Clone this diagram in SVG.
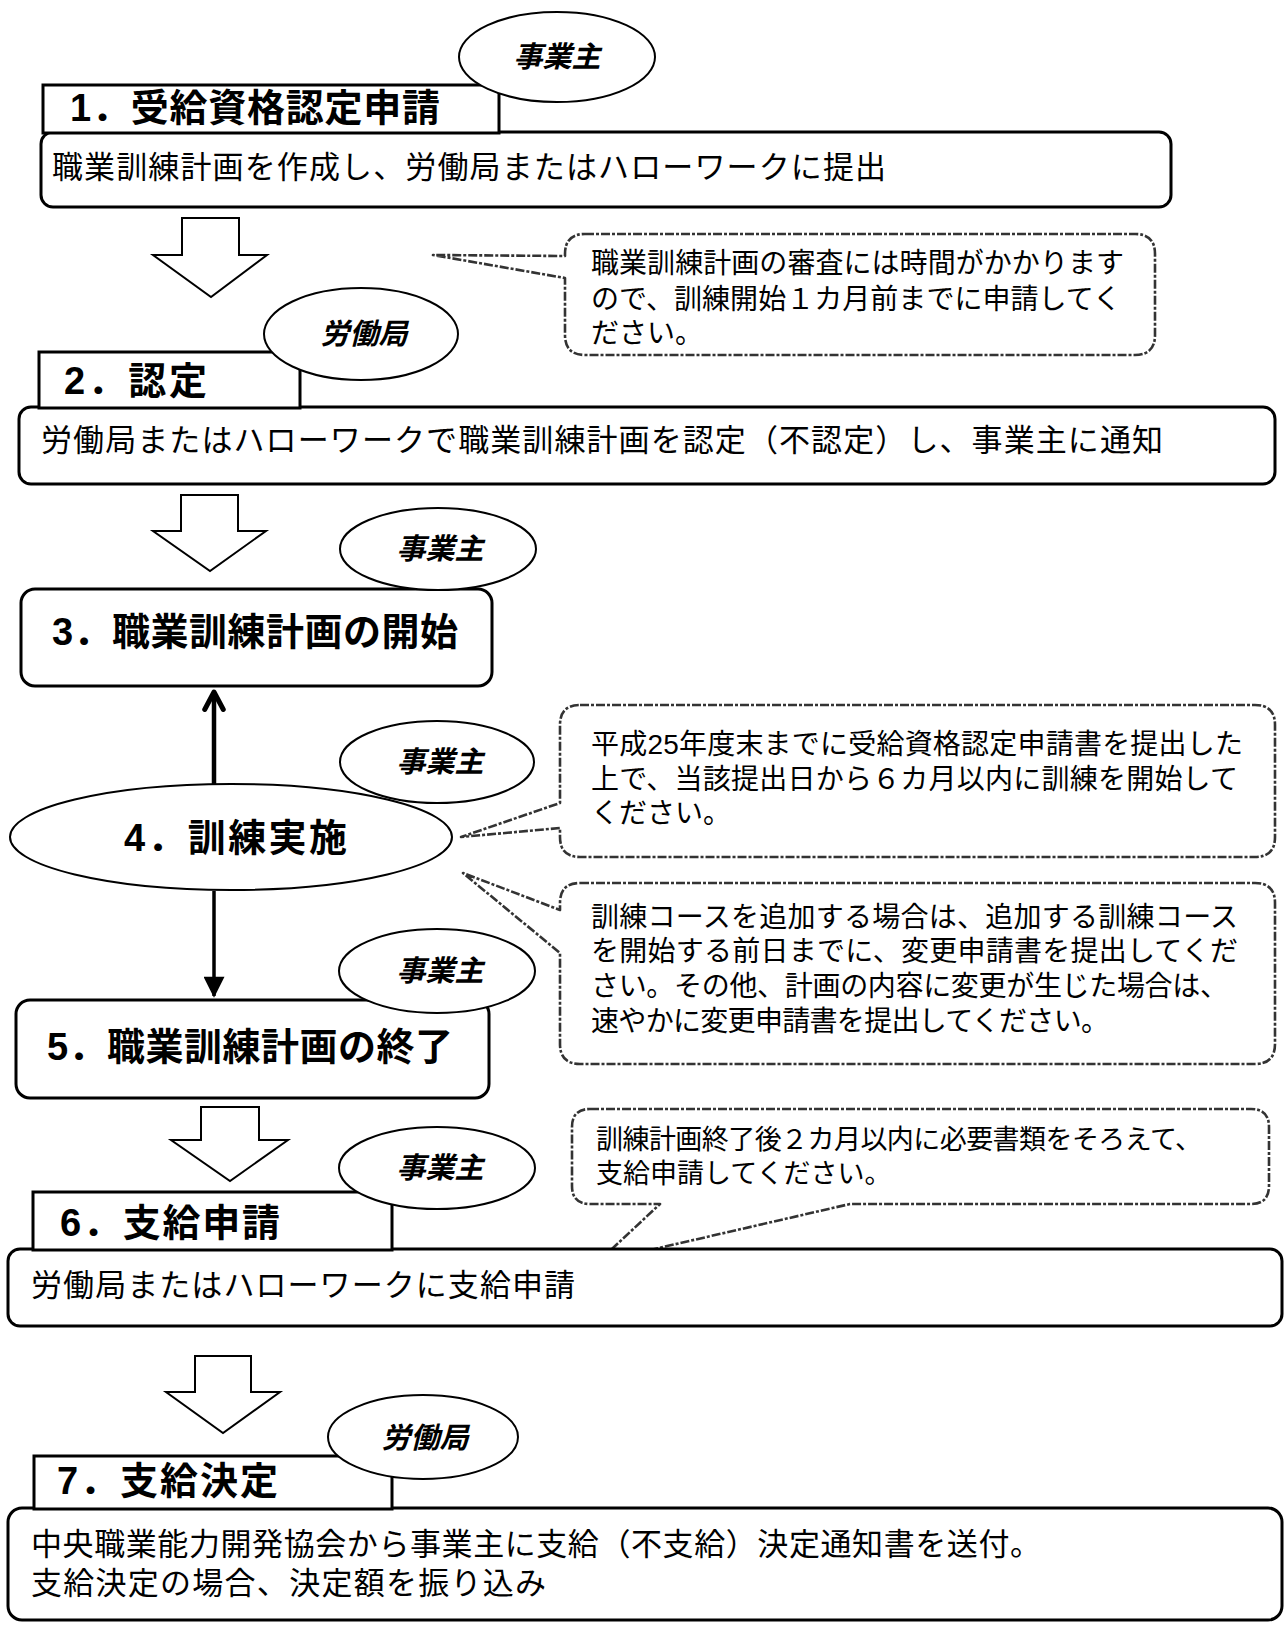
<svg xmlns="http://www.w3.org/2000/svg" width="1288" height="1625" viewBox="0 0 1288 1625">
<style>
.box{fill:#fff;stroke:#000;stroke-width:3}
.ell{fill:#fff;stroke:#000;stroke-width:2}
.call{fill:#fff;stroke:#333;stroke-width:2.6;stroke-dasharray:9 2 3 2;stroke-linejoin:round}
.barrow{fill:#fff;stroke:#000;stroke-width:2}
.conn{stroke:#000;fill:none}
text{font-family:"Liberation Sans","Noto Sans CJK JP",sans-serif;fill:#000;dominant-baseline:central}
.tt{font-weight:bold;font-size:38px}
.tb{font-size:31px}
.tc{font-size:28px}
.te{font-weight:bold;font-style:italic;font-size:29px;text-anchor:middle}
</style>
<defs>
<marker id="openHead" viewBox="0 0 12 12" refX="10" refY="6" markerWidth="5.5" markerHeight="5.5" orient="auto" markerUnits="strokeWidth">
<path d="M1.5,1.5 L10,6 L1.5,10.5" fill="none" stroke="#000" stroke-width="2.4" stroke-linecap="round" stroke-linejoin="round"/>
</marker>
<marker id="fillHead" viewBox="0 0 12 12" refX="11" refY="6" markerWidth="7" markerHeight="6" orient="auto" markerUnits="strokeWidth">
<path d="M0,0 L12,6 L0,12 Z" fill="#000"/>
</marker>
</defs>
<rect width="1288" height="1625" fill="#fff"/>

<g id="connectors">
<polygon class="barrow" points="182,218 239,218 239,255 267,255 211,297 153,255 182,255"/>
<polygon class="barrow" points="181,495 238,495 238,531 266,531 210,571 153,531 181,531"/>
<polygon class="barrow" points="201,1107 259,1107 259,1140 288,1140 230,1181 171,1140 201,1140"/>
<polygon class="barrow" points="195,1356 251,1356 251,1392 280,1392 223,1433 166,1392 195,1392"/>
<line class="conn" x1="214" y1="784" x2="214" y2="692" stroke-width="4.5" marker-end="url(#openHead)"/>
<line class="conn" x1="214" y1="891" x2="214" y2="996" stroke-width="3.5" marker-end="url(#fillHead)"/>
</g>

<g id="step1">
<rect class="box" x="41" y="132" width="1130" height="75" rx="12"/>
<rect class="box" x="43" y="85" width="456" height="48"/>
<text class="tt" x="70" y="108" textLength="370">1．受給資格認定申請</text>
<text class="tb" x="52" y="167" textLength="834">職業訓練計画を作成し、労働局またはハローワークに提出</text>
</g>
<g id="actor1">
<ellipse class="ell" cx="557" cy="57" rx="98" ry="45"/>
<text class="te" x="557" y="57">事業主</text>
</g>

<g id="note1">
<path class="call" d="M585,234 H1135 Q1155,234 1155,254 V335 Q1155,355 1135,355 H585 Q565,355 565,335 V278 L433,255 L565,256 V254 Q565,234 585,234 Z"/>
<text class="tc" x="591" y="263" textLength="533">職業訓練計画の審査には時間がかかります</text>
<text class="tc" x="591" y="299" textLength="530">ので、訓練開始１カ月前までに申請してく</text>
<text class="tc" x="591" y="333">ださい。</text>
</g>

<g id="step2">
<rect class="box" x="19" y="407" width="1256" height="77" rx="12"/>
<rect class="box" x="39" y="352" width="261" height="56"/>
<text class="tt" x="64" y="381" textLength="143">2．認定</text>
<text class="tb" x="41" y="440" textLength="1122">労働局またはハローワークで職業訓練計画を認定（不認定）し、事業主に通知</text>
</g>
<g id="actor2">
<ellipse class="ell" cx="361" cy="334" rx="97" ry="46"/>
<text class="te" x="364" y="334">労働局</text>
</g>

<g id="step3">
<rect class="box" x="21" y="589" width="471" height="97" rx="14"/>
<text class="tt" x="52" y="632" textLength="406">3．職業訓練計画の開始</text>
</g>
<g id="actor3">
<ellipse class="ell" cx="438" cy="549" rx="98" ry="41"/>
<text class="te" x="440" y="549">事業主</text>
</g>

<g id="actor4">
<ellipse class="ell" cx="437" cy="762" rx="97" ry="41"/>
<text class="te" x="440" y="762">事業主</text>
</g>
<g id="step4">
<ellipse class="ell" cx="231" cy="837" rx="221" ry="53"/>
<text class="tt" x="124" y="838" textLength="223">4．訓練実施</text>
</g>

<g id="note2">
<path class="call" d="M580,705 H1255 Q1275,705 1275,725 V837 Q1275,857 1255,857 H580 Q560,857 560,837 V828 L461,837 L560,803 V725 Q560,705 580,705 Z"/>
<text class="tc" x="591" y="744" textLength="652">平成25年度末までに受給資格認定申請書を提出した</text>
<text class="tc" x="591" y="779" textLength="647">上で、当該提出日から６カ月以内に訓練を開始して</text>
<text class="tc" x="591" y="813">ください。</text>
</g>

<g id="note3">
<path class="call" d="M580,883 H1255 Q1275,883 1275,903 V1044 Q1275,1064 1255,1064 H580 Q560,1064 560,1044 V953 L463,873 L560,910 V903 Q560,883 580,883 Z"/>
<text class="tc" x="591" y="917" textLength="647">訓練コースを追加する場合は、追加する訓練コース</text>
<text class="tc" x="591" y="951" textLength="647">を開始する前日までに、変更申請書を提出してくだ</text>
<text class="tc" x="591" y="986" textLength="637">さい。その他、計画の内容に変更が生じた場合は、</text>
<text class="tc" x="591" y="1021" textLength="518">速やかに変更申請書を提出してください。</text>
</g>

<g id="step5">
<rect class="box" x="16" y="1000" width="473" height="98" rx="14"/>
<text class="tt" x="47" y="1047" textLength="406">5．職業訓練計画の終了</text>
</g>
<g id="actor5">
<ellipse class="ell" cx="437" cy="971" rx="98" ry="42"/>
<text class="te" x="440" y="971">事業主</text>
</g>

<g id="note4">
<path class="call" d="M590,1109 H1251 Q1269,1109 1269,1127 V1186 Q1269,1204 1251,1204 H850 L598,1262 L660,1204 H590 Q572,1204 572,1186 V1127 Q572,1109 590,1109 Z"/>
<text class="tc" x="596" y="1140" textLength="606" style="font-size:27px">訓練計画終了後２カ月以内に必要書類をそろえて、</text>
<text class="tc" x="596" y="1174" style="font-size:27px">支給申請してください。</text>
</g>

<g id="step6">
<rect class="box" x="8" y="1249" width="1274" height="77" rx="12"/>
<rect class="box" x="33" y="1192" width="359" height="58"/>
<text class="tt" x="60" y="1223" textLength="220">6．支給申請</text>
<text class="tb" x="31" y="1285" textLength="544">労働局またはハローワークに支給申請</text>
</g>
<g id="actor6">
<ellipse class="ell" cx="437" cy="1168" rx="98" ry="41"/>
<text class="te" x="440" y="1168">事業主</text>
</g>

<g id="step7">
<rect class="box" x="8" y="1508" width="1274" height="112" rx="14"/>
<rect class="box" x="34" y="1456" width="358" height="53"/>
<text class="tt" x="57" y="1481" textLength="221">7．支給決定</text>
<text class="tb" x="31" y="1544" textLength="1010">中央職業能力開発協会から事業主に支給（不支給）決定通知書を送付。</text>
<text class="tb" x="31" y="1583" textLength="515">支給決定の場合、決定額を振り込み</text>
</g>
<g id="actor7">
<ellipse class="ell" cx="423" cy="1437" rx="95" ry="42"/>
<text class="te" x="425" y="1438">労働局</text>
</g>
</svg>
